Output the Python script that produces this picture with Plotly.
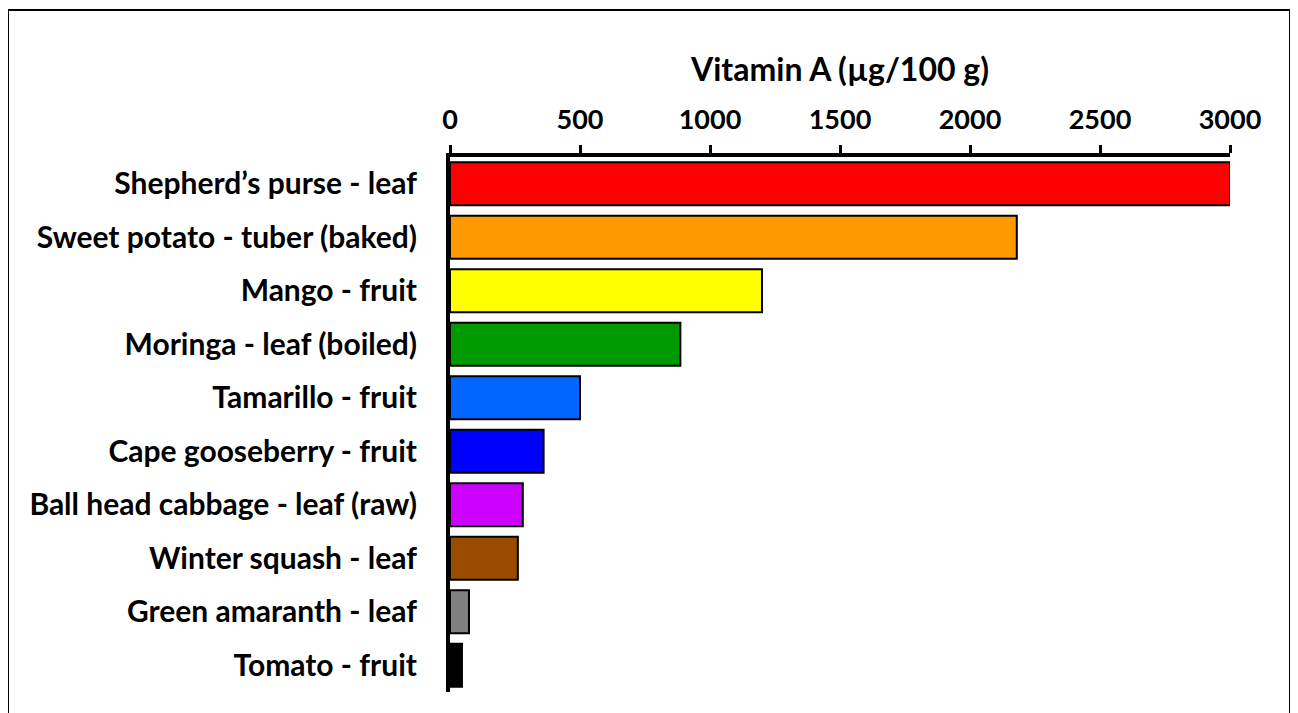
import plotly.graph_objects as go

categories = [
    "Shepherd’s purse - leaf",
    "Sweet potato - tuber (baked)",
    "Mango - fruit",
    "Moringa - leaf (boiled)",
    "Tamarillo - fruit",
    "Cape gooseberry - fruit",
    "Ball head cabbage - leaf (raw)",
    "Winter squash - leaf",
    "Green amaranth - leaf",
    "Tomato - fruit",
]
values = [3000, 2180, 1200, 886, 500, 360, 280, 261, 73, 46]
colors = ["#FF0000", "#FF9900", "#FFFF00", "#009900", "#0066FF",
          "#0000FF", "#CC00FF", "#994C00", "#808080", "#000000"]
tick_vals = [0, 500, 1000, 1500, 2000, 2500, 3000]
x_title = "Vitamin A (µg/100 g)"

FONT = "Lato, Carlito, Calibri, sans-serif"

fig = go.Figure(go.Bar(
    x=values, y=categories, orientation="h",
    marker=dict(color=colors, line=dict(color="black", width=2)),
    width=0.8,
))

W, H = 1290, 705
L, R, T, B = 442, 68, 149, 21
pw = W - L - R
ph = H - T - B

def px_x(x):
    return (x - L) / pw

def px_y(y):
    return (H - B - y) / ph

fig.update_layout(
    width=W, height=H,
    margin=dict(l=L, r=R, t=T, b=B),
    paper_bgcolor="white", plot_bgcolor="white",
    showlegend=False,
    font=dict(family=FONT, color="black"),
    xaxis=dict(
        side="top", range=[0, 3000], autorange=False,
        tickvals=tick_vals, ticks="outside", ticklen=8, tickwidth=3,
        tickcolor="black", showline=True, linewidth=4, linecolor="black",
        showgrid=False, zeroline=False, ticklabelstandoff=5,
        tickfont=dict(family=FONT, size=27, color="black", weight="bold"),
        title=dict(text="<b>" + x_title + "</b>", standoff=12,
                   font=dict(family=FONT, size=32, color="black")),
    ),
    yaxis=dict(
        autorange="reversed", showline=True, linewidth=4, linecolor="black",
        ticks="", showgrid=False, zeroline=False, ticklabelstandoff=23,
        tickfont=dict(family=FONT, size=30, color="black", weight="bold"),
    ),
    shapes=[dict(type="rect", xref="paper", yref="paper",
                 x0=px_x(0), x1=px_x(1282), y0=px_y(720), y1=px_y(2),
                 line=dict(color="black", width=2), fillcolor="rgba(0,0,0,0)",
                 layer="below")],
)

fig.write_html("out.html")
